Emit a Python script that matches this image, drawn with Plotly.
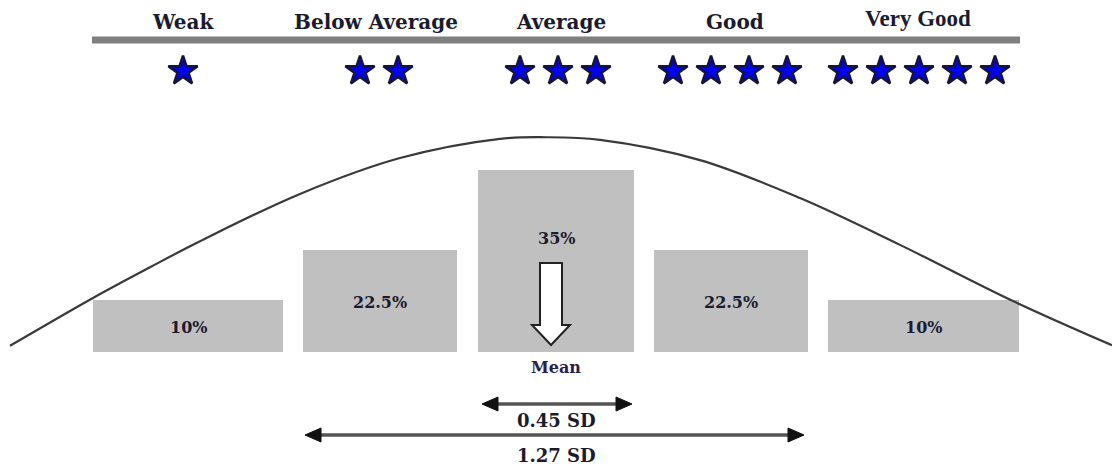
import plotly.graph_objects as go

# ---------------- data ----------------
categories = ["Weak", "Below Average", "Average", "Good", "Very Good"]
star_counts = [1, 2, 3, 4, 5]
share_labels = ["10%", "22.5%", "35%", "22.5%", "10%"]
# displayed bar heights (percentage units, as drawn in the picture)
bar_heights = [10, 19.6, 35, 19.6, 10]
mean_label = "Mean"
sd_labels = ["0.45 SD", "1.27 SD"]
# bell curve, points (x in px across, y in bar units)
curve_x = [10, 93, 150, 200, 300, 400, 500, 546, 600, 700, 800, 900, 1013, 1112]
curve_y = [1.2, 10.4, 16.3, 21.3, 30.4, 37.3, 41.0, 41.3, 40.8, 36.9, 29.6, 20.6, 9.8, 1.3]

# ---------------- layout constants (pixels) ----------------
W, H = 1112, 466
BASE_PX = 352          # pixel row of the bar baseline
PX_PER_UNIT = 5.2      # pixels per bar unit


def yv(py):
    return (BASE_PX - py) / PX_PER_UNIT


bar_centers = [188, 380, 556, 731, 923.5]
bar_widths = [190, 154, 156, 154, 191]
label_x = [183, 376, 561, 735, 918]
label_py = [22, 22, 22, 22, 18]
label_fonts = ["DejaVu Serif"] * 4 + ["Liberation Serif"]
label_sizes = [20, 20, 20, 20, 23]
star_cx = [183, 379, 558, 730, 919]
STAR_PY = 71
STAR_GAP = 38
share_x = [188, 380, 556, 731, 923]
share_py = [327, 302, 238, 302, 327]
sd_spans = [(482, 632, 404), (305, 804, 435)]
sd_label_py = [420, 455]
SD_LABEL_X = 556

TEXT_COLOR = "#1b1b30"

fig = go.Figure()

# bars
fig.add_trace(go.Bar(
    x=bar_centers, y=bar_heights, width=bar_widths,
    marker=dict(color="#c0c0c0", line=dict(width=0)),
    hoverinfo="skip",
))

# bell curve
fig.add_trace(go.Scatter(
    x=curve_x, y=curve_y, mode="lines",
    line=dict(color="#3a3a3a", width=2.2, shape="spline", smoothing=1.0),
    hoverinfo="skip",
))

# stars
sx, sy = [], []
for cx, n in zip(star_cx, star_counts):
    for k in range(n):
        sx.append(cx + (k - (n - 1) / 2) * STAR_GAP)
        sy.append(yv(STAR_PY))
fig.add_trace(go.Scatter(
    x=sx, y=sy, mode="markers",
    marker=dict(symbol="star", size=22, color="#0000f0",
                line=dict(color="#14143c", width=2.5)),
    hoverinfo="skip",
))

shapes = []
# top grey rule
shapes.append(dict(type="line", xref="x", yref="y", x0=92, x1=1020,
                   y0=yv(40), y1=yv(40), line=dict(color="#808080", width=7)))

# mean arrow (hollow, pointing down)
pts = [(540, 263), (562, 263), (562, 325), (570, 325), (551, 345), (532, 325), (540, 325)]
path = "M " + " L ".join(f"{x},{yv(y)}" for x, y in pts) + " Z"
shapes.append(dict(type="path", xref="x", yref="y", path=path,
                   fillcolor="white", line=dict(color="#222", width=2)))

# SD double arrows
HEAD_L, HEAD_H = 16, 7
for x0, x1, py in sd_spans:
    shapes.append(dict(type="line", xref="x", yref="y", x0=x0 + 8, x1=x1 - 8,
                       y0=yv(py), y1=yv(py), line=dict(color="#555", width=3.5)))
    lp = [(x0, py), (x0 + HEAD_L, py - HEAD_H), (x0 + HEAD_L, py + HEAD_H)]
    rp = [(x1, py), (x1 - HEAD_L, py - HEAD_H), (x1 - HEAD_L, py + HEAD_H)]
    for tri in (lp, rp):
        p = "M " + " L ".join(f"{x},{yv(y)}" for x, y in tri) + " Z"
        shapes.append(dict(type="path", xref="x", yref="y", path=p,
                           fillcolor="#111", line=dict(color="#111", width=1)))

annotations = []
for name, x, py, fam, sz in zip(categories, label_x, label_py, label_fonts, label_sizes):
    annotations.append(dict(x=x, y=yv(py), text=name, showarrow=False,
                            xanchor="center", yanchor="middle",
                            font=dict(family=fam, size=sz, color=TEXT_COLOR, weight="bold")))
for lab, x, py in zip(share_labels, share_x, share_py):
    annotations.append(dict(x=x, y=yv(py), text=lab, showarrow=False,
                            xanchor="center", yanchor="middle",
                            font=dict(family="DejaVu Serif", size=16, color=TEXT_COLOR, weight="bold")))
annotations.append(dict(x=556, y=yv(367), text=mean_label, showarrow=False,
                        xanchor="center", yanchor="middle",
                        font=dict(family="DejaVu Serif", size=16, color="#2a2050", weight="bold")))
for lab, py in zip(sd_labels, sd_label_py):
    annotations.append(dict(x=SD_LABEL_X, y=yv(py), text=lab, showarrow=False,
                            xanchor="center", yanchor="middle",
                            font=dict(family="DejaVu Serif", size=18, color=TEXT_COLOR, weight="bold")))

fig.update_layout(
    width=W, height=H,
    margin=dict(l=0, r=0, t=0, b=0),
    paper_bgcolor="white", plot_bgcolor="white",
    showlegend=False,
    xaxis=dict(range=[0, W], visible=False, fixedrange=True),
    yaxis=dict(range=[yv(H), yv(0)], visible=False, fixedrange=True),
    shapes=shapes,
    annotations=annotations,
)

fig.write_html("out.html", config={"displayModeBar": False},
               post_script="document.body.style.margin='0';document.body.style.overflow='hidden';")
